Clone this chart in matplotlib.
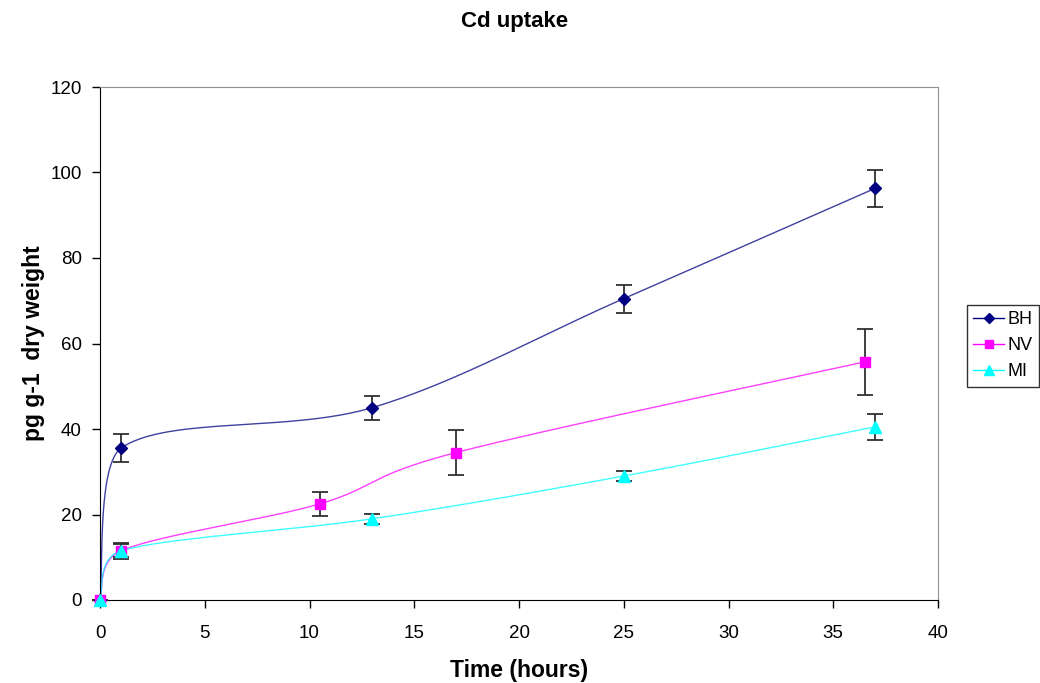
import numpy as np
import matplotlib
matplotlib.use("Agg")
import matplotlib.pyplot as plt

plt.rcParams['font.family'] = ['Liberation Sans', 'DejaVu Sans']

# data
bh_t = [0, 1, 13, 25, 37]
bh_v = [0, 35.5, 45.0, 70.5, 96.3]
bh_err = [0, 3.3, 2.8, 3.3, 4.3]

nv_t = [0, 1, 10.5, 17, 36.5]
nv_v = [0, 11.5, 22.5, 34.5, 55.7]
nv_err = [0, 1.8, 2.8, 5.3, 7.7]

mi_t = [0, 1, 13, 25, 37]
mi_v = [0, 11.5, 19.0, 29.0, 40.5]
mi_err = [0, 1.5, 1.2, 1.2, 3.0]

xticks = list(range(0, 45, 5))
yticks = list(range(0, 140, 20))


def clamp_ctrl(p, off, xlo, xhi):
    # shrink the control offset so its x stays inside the segment
    q = p + off
    s = 1.0
    if q[0] < xlo and off[0] != 0:
        s = (xlo - p[0]) / off[0]
    elif q[0] > xhi and off[0] != 0:
        s = (xhi - p[0]) / off[0]
    return p + off * max(0.0, min(1.0, s))


def excel_smooth(x, y, n=60):
    """Bezier smoothing similar to Excel's smoothed line"""
    x = np.asarray(x, float)
    y = np.asarray(y, float)
    px = np.concatenate([[x[0]], x, [x[-1]]])
    py = np.concatenate([[y[0]], y, [y[-1]]])
    xs, ys = [], []
    s = np.linspace(0, 1, n)
    for i in range(1, len(px) - 2):
        p0 = np.array([px[i], py[i]])
        p3 = np.array([px[i + 1], py[i + 1]])
        pm = np.array([px[i - 1], py[i - 1]])
        pn = np.array([px[i + 2], py[i + 2]])
        lo, hi = min(p0[0], p3[0]), max(p0[0], p3[0])
        p1 = clamp_ctrl(p0, (p3 - pm) / 6, lo - 0.15, hi)
        p2 = clamp_ctrl(p3, -(pn - p0) / 6, lo - 0.15, hi)
        b = (np.outer((1 - s) ** 3, p0) + np.outer(3 * (1 - s) ** 2 * s, p1)
             + np.outer(3 * (1 - s) * s ** 2, p2) + np.outer(s ** 3, p3))
        xs.extend(b[:, 0])
        ys.extend(b[:, 1])
    return xs, ys


fig = plt.figure(figsize=(10.4, 6.83), dpi=100)
ax = fig.add_axes([100 / 1040, 1 - 600 / 683, 838 / 1040, 513 / 683])

series = [
    ('BH', bh_t, bh_v, bh_err, '#000080', 'D', 6),
    ('NV', nv_t, nv_v, nv_err, '#FF00FF', 's', 7),
    ('MI', mi_t, mi_v, mi_err, '#00FFFF', '^', 8),
]

for name, t, v, e, col, mk, ms in series:
    sx, sy = excel_smooth(t, v)
    ax.plot(sx, sy, color=col, lw=1, alpha=0.75, zorder=2, clip_on=False)
    ax.errorbar(t, v, yerr=e, fmt='none', ecolor='#303030', elinewidth=1.3,
                capsize=6, capthick=1.3, zorder=3, clip_on=False)
    ax.plot(t, v, linestyle='none', marker=mk, color=col, markersize=ms,
            markeredgecolor=col, zorder=4, clip_on=False)
    # legend handle
    ax.plot([], [], color=col, lw=1, marker=mk, markersize=ms - 1, label=name)

ax.set_xlim(0, 40)
ax.set_ylim(0, 120)
ax.set_xticks(xticks)
ax.set_yticks(yticks)
ax.tick_params(direction='out', length=6, labelsize=13.5, width=1)
ax.tick_params(axis='x', pad=12)
ax.tick_params(axis='y', pad=7)
for sp in ['top', 'right']:
    ax.spines[sp].set_color('#909090')
for sp in ['left', 'bottom']:
    ax.spines[sp].set_color('black')

ax.set_xlabel('Time (hours)', fontsize=16.5, fontweight='bold')
ax.set_ylabel('pg g-1  dry weight', fontsize=16.5, fontweight='bold')
ax.xaxis.label.set_va('center')
ax.yaxis.label.set_va('center')
ax.xaxis.set_label_coords(0.5, -(671 - 600) / 513)
ax.yaxis.set_label_coords((34 - 100) / 838, 0.5)
fig.text(515 / 1040, 1 - 22 / 683, 'Cd uptake', ha='center', va='center',
         fontsize=16, fontweight='bold')

leg = fig.legend(loc='upper left', bbox_to_anchor=(967 / 1040, 1 - 305 / 683),
                 frameon=True, fancybox=False, fontsize=13, handlelength=1.7,
                 borderpad=0.35, labelspacing=0.5, handletextpad=0.2,
                 borderaxespad=0)
leg.get_frame().set_edgecolor('black')
leg.get_frame().set_linewidth(1)

fig.savefig('out.png', dpi=100)
